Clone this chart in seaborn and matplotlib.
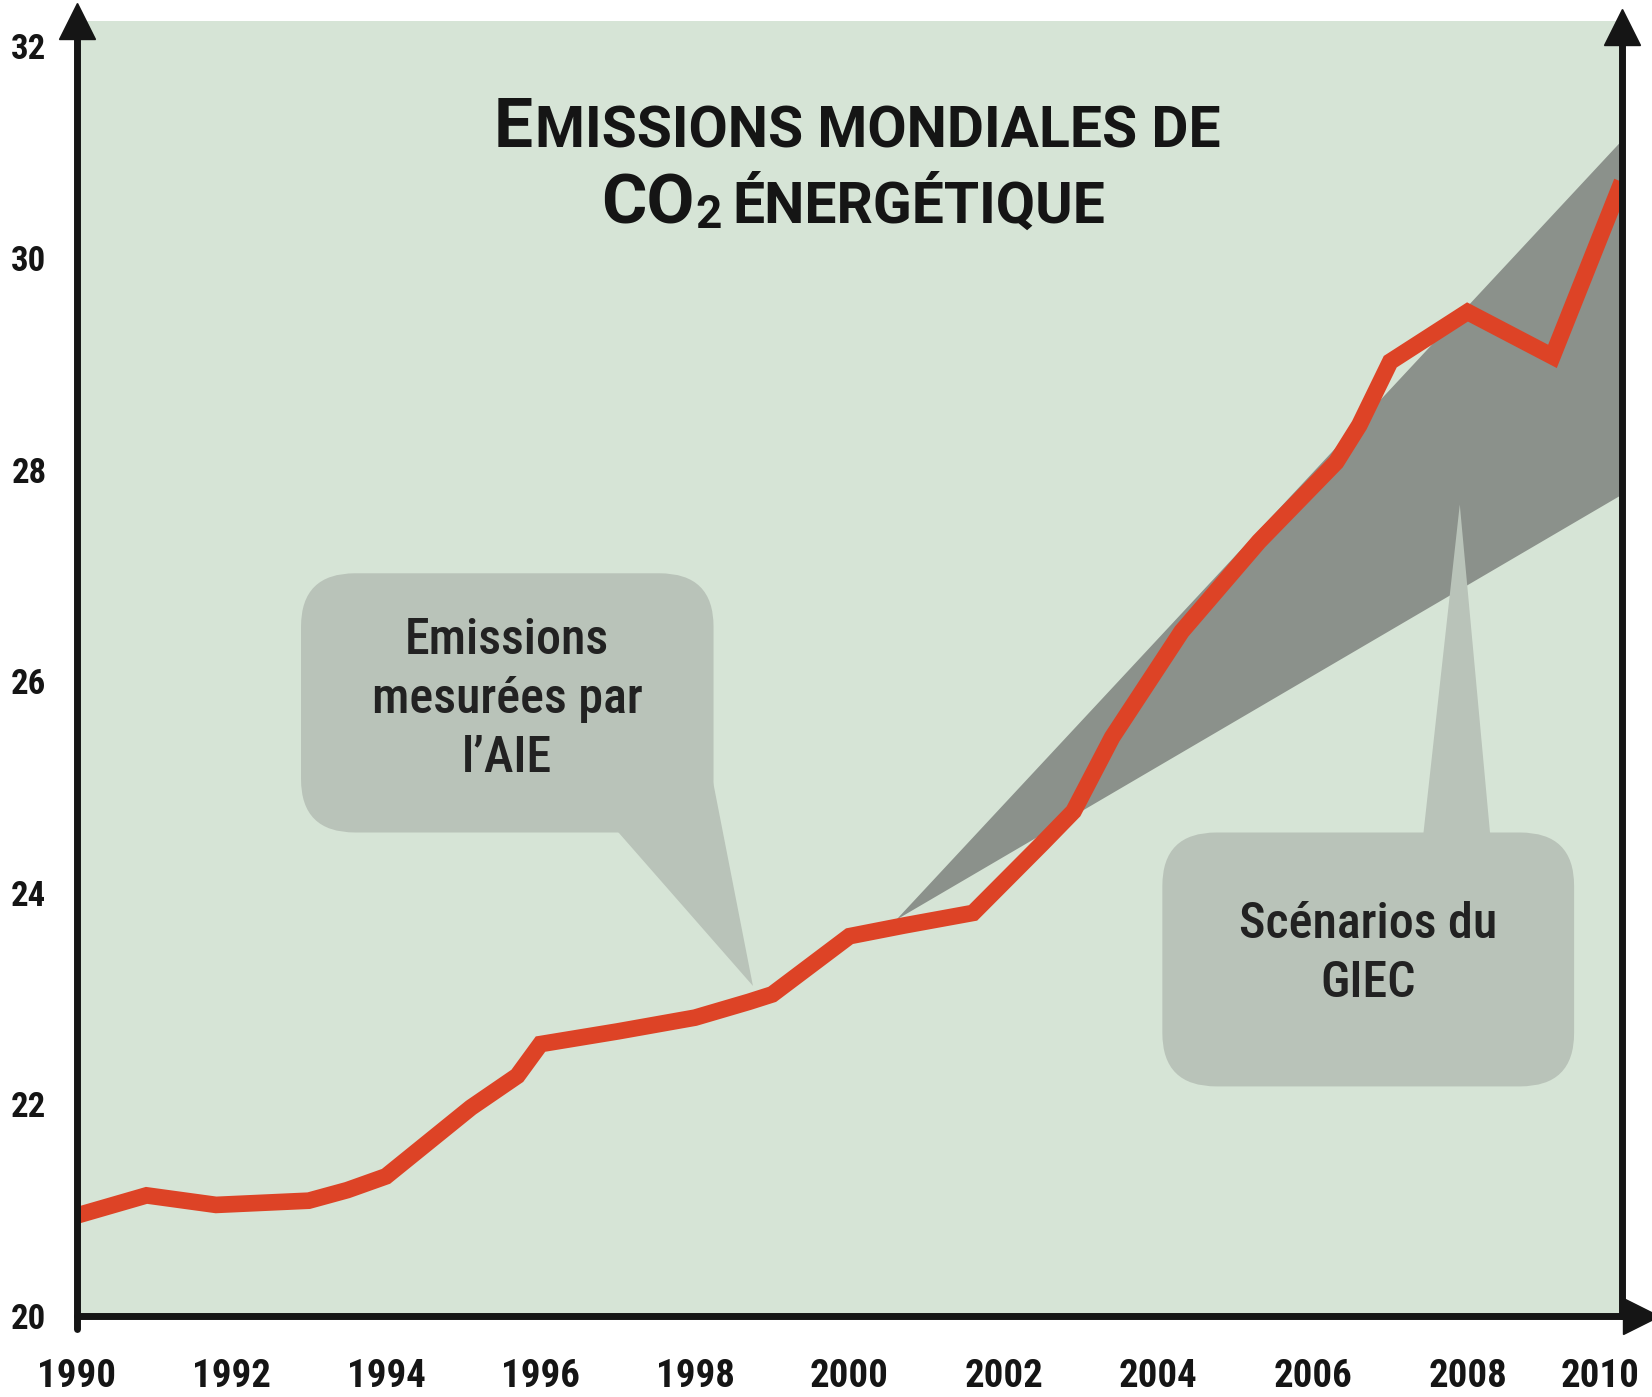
import numpy as np
import pandas as pd
import seaborn as sns
import matplotlib
matplotlib.use("Agg")
import matplotlib.pyplot as plt
import matplotlib.transforms as mtrans
from matplotlib import font_manager
from matplotlib.patches import FancyBboxPatch, Polygon

# ---------------- data ----------------
years = [1990.0, 1990.9, 1991.8, 1993.0, 1993.5, 1994.0, 1995.1, 1995.7, 1996.0,
         1997.0, 1998.0, 1998.7, 1999.0, 2000.0, 2000.7, 2001.6, 2002.5, 2002.9,
         2003.4, 2004.3, 2005.3, 2006.3, 2006.6, 2007.0, 2008.0, 2009.1, 2010.0]
emissions = [20.95, 21.14, 21.05, 21.09, 21.19, 21.32, 21.97, 22.27, 22.57,
             22.69, 22.82, 22.97, 23.04, 23.59, 23.69, 23.81, 24.47, 24.77,
             25.47, 26.47, 27.32, 28.07, 28.42, 29.02, 29.49, 29.07, 30.72]

scen_years = [2000.6, 2010.0]
scen_low = [23.75, 27.77]
scen_high = [23.75, 31.12]

xticks = [1990, 1992, 1994, 1996, 1998, 2000, 2002, 2004, 2006, 2008, 2010]
yticks = [20, 22, 24, 26, 28, 30, 32]

title_l1 = [("E", "big"), ("MISSIONS MONDIALES DE", "small")]
title_l2 = [("CO", "big"), ("2", "sub"), ("ÉNERGÉTIQUE", "small")]
bubble1_text = "Emissions\nmesurées par\nl\u2019AIE"
bubble2_text = "Scénarios du\nGIEC"

# ---------------- style ----------------
sns.set_theme(style="white")
names = {f.name for f in font_manager.fontManager.ttflist}
COND = next((n for n in ["Roboto Condensed", "Liberation Sans Narrow", "Open Sans Condensed",
                         "Noto Sans", "DejaVu Sans"] if n in names), "DejaVu Sans")
TFONT = next((n for n in ["Roboto", "Liberation Sans", "DejaVu Sans"] if n in names), "DejaVu Sans")
plt.rcParams["font.family"] = [COND, "DejaVu Sans"]

BG = "#d6e4d6"
BAND = "#8b918b"
BUBBLE = "#b9c3b9"
RED = "#dd4326"
INK = "#151515"

W, H = 1652, 1397
fig = plt.figure(figsize=(W / 100, H / 100), dpi=100, facecolor="white")
x0, x1 = 77, 1622
ytop_px, ybot_px = 21, 1316
ax = fig.add_axes([x0 / W, 1 - ybot_px / H, (x1 - x0) / W, (ybot_px - ytop_px) / H])
ax.set_facecolor(BG)
ax.set_xlim(1990, 2010)
ax.set_ylim(20, 32.24)

# scenario band
ax.fill_between(scen_years, scen_low, scen_high, color=BAND, lw=0, zorder=1)

# speech bubbles
r = 0.7
b1 = FancyBboxPatch((1992.9, 24.57), 1998.24 - 1992.9, 27.02 - 24.57,
                    boxstyle=f"round,pad=0,rounding_size={r}", mutation_aspect=0.72,
                    fc=BUBBLE, ec="none", zorder=2)
ax.add_patch(b1)
ax.add_patch(Polygon([(1996.95, 24.62), (1998.22, 25.1), (1998.75, 23.12)],
                     closed=True, fc=BUBBLE, ec="none", zorder=2))
b2 = FancyBboxPatch((2004.05, 22.17), 2009.38 - 2004.05, 24.57 - 22.17,
                    boxstyle=f"round,pad=0,rounding_size={r}", mutation_aspect=0.72,
                    fc=BUBBLE, ec="none", zorder=2)
ax.add_patch(b2)
ax.add_patch(Polygon([(2007.42, 24.5), (2008.3, 24.5), (2007.9, 27.67)],
                     closed=True, fc=BUBBLE, ec="none", zorder=2))

ax.text(1995.57, 25.83, bubble1_text, ha="center", va="center", fontsize=36,
        fontweight="medium", color="#222222", linespacing=1.32, zorder=4)
ax.text(2006.72, 23.42, bubble2_text, ha="center", va="center", fontsize=36,
        fontweight="medium", color="#222222", linespacing=1.32, zorder=4)

# measured emissions
df = pd.DataFrame({"year": years, "co2": emissions})
sns.lineplot(data=df, x="year", y="co2", color=RED, linewidth=12, ax=ax, zorder=3,
             solid_joinstyle="miter", solid_capstyle="butt")

# axes frame with arrows
for s in ax.spines.values():
    s.set_visible(False)
lw = 5
ax.plot([0, 0], [-0.01, 1.0], color=INK, lw=lw, transform=ax.transAxes, clip_on=False, zorder=5)
ax.plot([1, 1], [0, 0.995], color=INK, lw=lw, transform=ax.transAxes, clip_on=False, zorder=5)
ax.plot([0, 1.01], [0, 0], color=INK, lw=lw, transform=ax.transAxes, clip_on=False, zorder=5)
ax.plot([0], [1.0], marker="^", ms=26, color=INK, transform=ax.transAxes, clip_on=False, zorder=6)
ax.plot([1], [0.995], marker="^", ms=26, color=INK, transform=ax.transAxes, clip_on=False, zorder=6)
ax.plot([1.012], [0], marker=">", ms=26, color=INK, transform=ax.transAxes, clip_on=False, zorder=6)

ax.set_xticks(xticks)
ax.set_yticks(yticks)
ax.set_xticklabels([str(t) for t in xticks])
ax.set_yticklabels([str(t) for t in yticks])
ax.tick_params(axis="x", length=0, pad=30, labelsize=28, colors=INK)
ax.tick_params(axis="y", length=0, pad=22, labelsize=25, colors=INK)
for lab in ax.get_xticklabels() + ax.get_yticklabels():
    lab.set_fontweight("bold")
lastlab = ax.get_xticklabels()[-1]
lastlab.set_transform(lastlab.get_transform() + mtrans.ScaledTranslation(-22 / 100, 0, fig.dpi_scale_trans))
ax.set_xlabel("")
ax.set_ylabel("")
ax.grid(False)

# title with small caps
sizes = {"big": 50, "small": 41, "sub": 33}
def rich_line(pieces, baseline_px, center_px):
    texts = []
    for s, kind in pieces:
        t = fig.text(0, 0, s, fontsize=sizes[kind], fontweight="bold", color=INK,
                     family=[TFONT, "DejaVu Sans"], ha="left", va="baseline", zorder=10)
        texts.append((t, kind))
    fig.canvas.draw()
    rend = fig.canvas.get_renderer()
    widths = [t.get_window_extent(rend).width for t, _ in texts]
    gaps = []
    for (t, kind), (t2, k2) in zip(texts[:-1], texts[1:]):
        gaps.append(1 if k2 == "sub" else (10 if kind == "sub" else 2))
    total = sum(widths) + sum(gaps)
    x = center_px - total / 2
    for i, ((t, kind), w) in enumerate(zip(texts, widths)):
        dy = -5 if kind == "sub" else 0
        t.set_position((x / W, 1 - (baseline_px - dy) / H))
        x += w + (gaps[i] if i < len(gaps) else 0)

rich_line(title_l1, 147, 857)
rich_line(title_l2, 223, 853)

fig.savefig("out.png", dpi=100, facecolor="white")
